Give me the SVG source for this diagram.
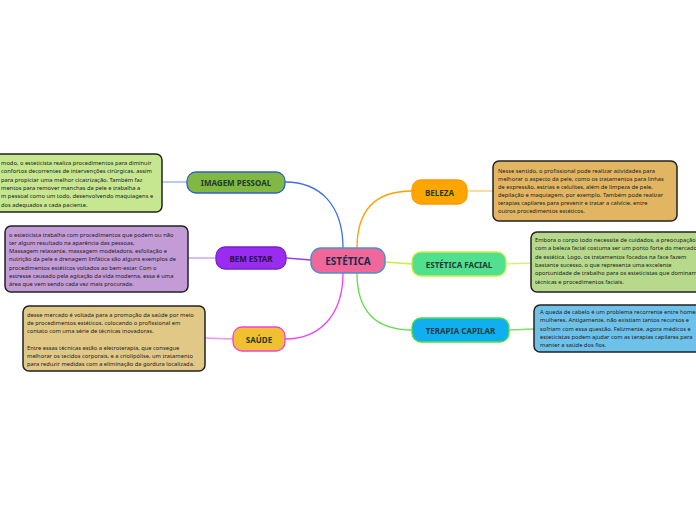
<svg xmlns="http://www.w3.org/2000/svg" width="696" height="520" viewBox="0 0 696 520">
<style>
.node text{font-family:"Noto Sans","Open Sans",sans-serif;font-weight:bold;text-anchor:middle;dominant-baseline:central}
.box rect{stroke:#222;stroke-width:1.5}
.box text{font-family:"Noto Sans","Open Sans",sans-serif;font-size:5.75px;fill:#222}
.conn path{fill:none;stroke-width:1.3}
</style>
<rect width="696" height="520" fill="#ffffff"/>
<g id="connectors" class="conn">
<path d="M343,248 C343,205 320,182 285,182" stroke="#3a6ff0"/>
<path d="M311,260 L286,258" stroke="#9a3cf0"/>
<path d="M343,273 C343,315 320,339 285,339" stroke="#f040f0"/>
<path d="M357,248 C357,205 380,191 412,191" stroke="#ffa000"/>
<path d="M385,262 L412,264" stroke="#c4f040"/>
<path d="M357,273 C357,315 380,330 412,330" stroke="#5ee048"/>
<path d="M162,182 L187,182" stroke="#8fb0f0"/>
<path d="M188,258 L216,258" stroke="#c49af0"/>
<path d="M205,338 L233,339" stroke="#f090f0"/>
<path d="M467,191 L493,191" stroke="#ffc870"/>
<path d="M506,264 L531,263" stroke="#d4f070"/>
<path d="M509,330 L534,329" stroke="#80e060"/>
</g>
<g id="node-estetica" class="node">
<rect x="311" y="248" width="74" height="25" rx="10" fill="#f0689a" stroke="#4a90d0" stroke-width="1.5"/>
<text x="348" y="261" font-size="10" fill="#1c2a50">ESTÉTICA</text>
</g>
<g id="node-imagem" class="node">
<rect x="187" y="172" width="98" height="21" rx="9" fill="#80b843" stroke="#2f5fd0" stroke-width="1.3"/>
<text x="236" y="182.5" font-size="8" fill="#1f3a28">IMAGEM PESSOAL</text>
</g>
<g id="node-bemestar" class="node">
<rect x="216" y="247" width="70" height="22" rx="9" fill="#9a2cf0" stroke="#7a20c8" stroke-width="1.3"/>
<text x="251" y="258" font-size="8" fill="#2a1040">BEM ESTAR</text>
</g>
<g id="node-saude" class="node">
<rect x="233" y="327" width="52" height="24" rx="9" fill="#f0c030" stroke="#f040e0" stroke-width="1.3"/>
<text x="259" y="339" font-size="8" fill="#1f3a1f">SAÚDE</text>
</g>
<g id="node-beleza" class="node">
<rect x="412" y="180" width="55" height="24" rx="9" fill="#ffa500" stroke="#ff9800" stroke-width="1.3"/>
<text x="439.5" y="192" font-size="8" fill="#1d3d1d">BELEZA</text>
</g>
<g id="node-facial" class="node">
<rect x="412" y="252" width="94" height="24" rx="9" fill="#50e090" stroke="#c8f040" stroke-width="1.3"/>
<text x="459" y="264" font-size="8" fill="#1f3a30">ESTÉTICA FACIAL</text>
</g>
<g id="node-capilar" class="node">
<rect x="412" y="318" width="97" height="24" rx="9" fill="#10b0f0" stroke="#50e040" stroke-width="1.3"/>
<text x="460.5" y="330" font-size="8" fill="#1f3a40">TERAPIA CAPILAR</text>
</g>
<g id="box-imagem" class="box">
<rect x="-10" y="154" width="172" height="58" rx="6" fill="#c6e690"/>
<text x="1" y="165">modo, o esteticista realiza procedimentos para diminuir</text>
<text x="1" y="173.3">confortos decorrentes de intervenções cirúrgicas, assim</text>
<text x="1" y="181.6">para propiciar uma melhor cicatrização. Também faz</text>
<text x="1" y="189.9">mentos para remover manchas da pele e trabalha a</text>
<text x="1" y="198.2">m pessoal como um todo, desenvolvendo maquiagens e</text>
<text x="1" y="206.5">dos adequados a cada paciente.</text>
</g>
<g id="box-bemestar" class="box">
<rect x="5" y="226" width="183" height="66" rx="6" fill="#c39bd6"/>
<text x="9" y="236.5">o esteticista trabalha com procedimentos que podem ou não</text>
<text x="9" y="244.8">ter algum resultado na aparência das pessoas,</text>
<text x="9" y="253.1">Massagem relaxante, massagem modeladora, esfoliação e</text>
<text x="9" y="261.4">nutrição da pele e drenagem linfática são alguns exemplos de</text>
<text x="9" y="269.7">procedimentos estéticos voltados ao bem-estar. Com o</text>
<text x="9" y="278">estresse causado pela agitação da vida moderna, essa é uma</text>
<text x="9" y="286.3">área que vem sendo cada vez mais procurada.</text>
</g>
<g id="box-saude" class="box">
<rect x="23" y="306" width="182" height="65" rx="6" fill="#e1c886"/>
<text x="27" y="317">desse mercado é voltada para a promoção da saúde por meio</text>
<text x="27" y="325.2">de procedimentos estéticos, colocando o profissional em</text>
<text x="27" y="333.4">contato com uma série de técnicas inovadoras.</text>
<text x="27" y="349.8">Entre essas técnicas estão a eletroterapia, que consegue</text>
<text x="27" y="358">melhorar os tecidos corporais, e a criolipólise, um tratamento</text>
<text x="27" y="366.2">para reduzir medidas com a eliminação da gordura localizada.</text>
</g>
<g id="box-beleza" class="box">
<rect x="493" y="161" width="184" height="60" rx="6" fill="#e2b563"/>
<text x="498" y="173">Nesse sentido, o profissional pode realizar atividades para</text>
<text x="498" y="181">melhorar o aspecto da pele, como os tratamentos para linhas</text>
<text x="498" y="189">de expressão, estrias e celulites, além de limpeza de pele,</text>
<text x="498" y="197">depilação e maquiagem, por exemplo. Também pode realizar</text>
<text x="498" y="205">terapias capilares para prevenir e tratar a calvície, entre</text>
<text x="498" y="213">outros procedimentos estéticos.</text>
</g>
<g id="box-facial" class="box">
<rect x="531" y="232" width="180" height="60" rx="6" fill="#b6d98b"/>
<text x="535" y="242">Embora o corpo todo necessite de cuidados, a preocupação</text>
<text x="535" y="250.3">com a beleza facial costuma ser um ponto forte do mercado</text>
<text x="535" y="258.6">de estética. Logo, os tratamentos focados na face fazem</text>
<text x="535" y="267">bastante sucesso, o que representa uma excelente</text>
<text x="535" y="275.3">oportunidade de trabalho para os esteticistas que dominam</text>
<text x="535" y="283.6">técnicas e procedimentos faciais.</text>
</g>
<g id="box-capilar" class="box">
<rect x="534" y="305" width="180" height="47" rx="6" fill="#6ec1e8"/>
<text x="540" y="314">A queda de cabelo é um problema recorrente entre homens e</text>
<text x="540" y="322.3">mulheres. Antigamente, não existiam tantos recursos e</text>
<text x="540" y="330.6">sofriam com essa questão. Felizmente, agora médicos e</text>
<text x="540" y="339">esteticistas podem ajudar com as terapias capilares para</text>
<text x="540" y="347.3">manter a saúde dos fios.</text>
</g>
</svg>
